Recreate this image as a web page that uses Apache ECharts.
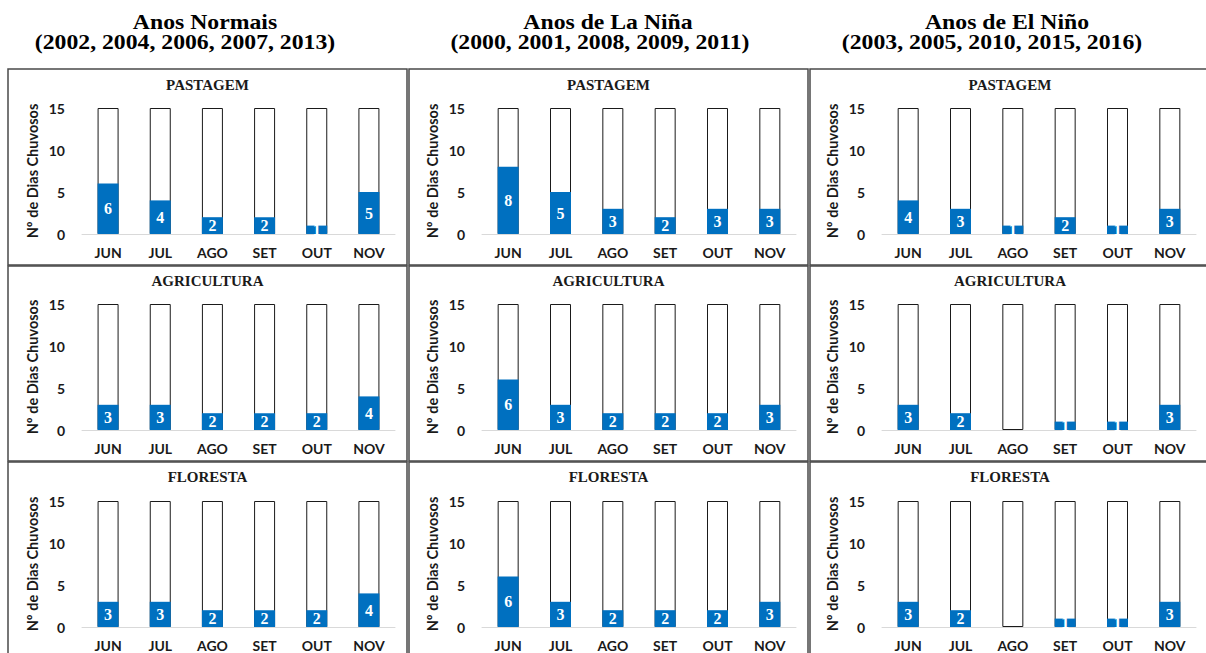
<!DOCTYPE html>
<html>
<head>
<meta charset="utf-8">
<script src="https://cdn.jsdelivr.net/npm/echarts@6/dist/echarts.min.js"></script>
<style>
html,body{margin:0;padding:0;background:#fff;}
#c{width:1206px;height:653px;}
</style>
</head>
<body>
<div id="c"></div>
<script>
// ---- data ----
const months = ['JUN', 'JUL', 'AGO', 'SET', 'OUT', 'NOV'];
const yTicks = [0, 5, 10, 15];
const maxDays = [15, 15, 15, 15, 15, 15];

const columnTitles = ['Anos Normais', 'Anos de La Niña', 'Anos de El Niño'];
const columnYears = ['(2002, 2004, 2006, 2007, 2013)', '(2000, 2001, 2008, 2009, 2011)', '(2003, 2005, 2010, 2015, 2016)'];
const rowTitles = ['PASTAGEM', 'AGRICULTURA', 'FLORESTA'];
const yAxisName = 'Nº de Dias Chuvosos';

const normaisPastagem = [6, 4, 2, 2, 1, 5];
const laNinaPastagem = [8, 5, 3, 2, 3, 3];
const elNinoPastagem = [4, 3, 1, 2, 1, 3];
const normaisAgricultura = [3, 3, 2, 2, 2, 4];
const laNinaAgricultura = [6, 3, 2, 2, 2, 3];
const elNinoAgricultura = [3, 2, 0, 1, 1, 3];
const normaisFloresta = [3, 3, 2, 2, 2, 4];
const laNinaFloresta = [6, 3, 2, 2, 2, 3];
const elNinoFloresta = [3, 2, 0, 1, 1, 3];

const panelData = [
  [normaisPastagem, laNinaPastagem, elNinoPastagem],
  [normaisAgricultura, laNinaAgricultura, elNinoAgricultura],
  [normaisFloresta, laNinaFloresta, elNinoFloresta]
];

// ---- layout ----
const colGridLeft = [82, 482, 882];
const colGridWidth = [313, 314, 314];
const rowGridTop = [108, 304, 501];
const rowGridHeight = [126, 126, 126];
const rowTitleY = [77, 273, 469];
const colBoxX = [8, 409, 810];
const colBoxW = [399, 399, 400];
const rowBoxY = [69, 266, 462];
const rowBoxH = [196, 195, 200];
const colTitleX1 = [205, 608, 1007];
const colTitleX2 = [185, 600, 992];

const BLUE = '#0070C0';
const sans = 'Lato, "Open Sans", sans-serif';
const serif = '"Liberation Serif", "DejaVu Serif", serif';

const grids = [], xAxes = [], yAxes = [], series = [], titles = [], graphics = [];

for (let c = 0; c < 3; c++) {
  graphics.push({
    type: 'text', x: colTitleX1[c], y: 21.5, scaleX: 1.13,
    style: { text: columnTitles[c], font: 'bold 21px ' + serif, fill: '#000', align: 'center', verticalAlign: 'middle' }
  });
  graphics.push({
    type: 'text', x: colTitleX2[c], y: 41.5, scaleX: 1.13,
    style: { text: columnYears[c], font: 'bold 21px ' + serif, fill: '#000', align: 'center', verticalAlign: 'middle' }
  });
}

for (let r = 0; r < 3; r++) {
  for (let c = 0; c < 3; c++) {
    const idx = grids.length;
    graphics.push({
      type: 'rect', z: -1,
      shape: { x: colBoxX[c], y: rowBoxY[r], width: colBoxW[c], height: rowBoxH[r] },
      style: { fill: 'none', stroke: '#4a4a4a', lineWidth: 1.5 }
    });
    titles.push({
      text: rowTitles[r],
      left: colBoxX[c] + colBoxW[c] / 2,
      top: rowTitleY[r],
      textAlign: 'center',
      padding: 0,
      textStyle: { fontFamily: serif, fontWeight: 'bold', fontSize: 15, color: '#1a1a1a' }
    });
    grids.push({ left: colGridLeft[c], top: rowGridTop[r], width: colGridWidth[c], height: rowGridHeight[r], containLabel: false });
    xAxes.push({
      type: 'category', gridIndex: idx, data: months,
      axisLine: { show: true, lineStyle: { color: '#d9d9d9', width: 1 } },
      axisTick: { show: false },
      axisLabel: { fontFamily: sans, fontWeight: 'bold', fontSize: 14, color: '#1a1a1a', margin: 11 }
    });
    yAxes.push({
      type: 'value', gridIndex: idx, min: yTicks[0], max: yTicks[yTicks.length - 1], interval: 5,
      name: yAxisName, nameLocation: 'middle', nameGap: 42,
      nameTextStyle: { fontFamily: sans, fontWeight: 'bold', fontSize: 14.5, color: '#1a1a1a' },
      axisLine: { show: false }, axisTick: { show: false }, splitLine: { show: false },
      axisLabel: { fontFamily: sans, fontWeight: 'bold', fontSize: 14, color: '#1a1a1a', margin: 17 }
    });
    series.push({
      type: 'bar', xAxisIndex: idx, yAxisIndex: idx, data: maxDays,
      barWidth: 21, barGap: '-100%', silent: true,
      itemStyle: { color: '#ffffff', borderColor: '#1a1a1a', borderWidth: 1 },
      z: 2
    });
    series.push({
      type: 'bar', xAxisIndex: idx, yAxisIndex: idx, data: panelData[r][c],
      barWidth: 21, barGap: '-100%', silent: true,
      itemStyle: { color: BLUE },
      label: {
        show: true, position: 'inside',
        formatter: p => (p.value > 0 ? String(p.value) : ''),
        fontFamily: serif, fontWeight: 'bold', fontSize: 16, color: '#ffffff'
      },
      z: 3
    });
  }
}

const chart = echarts.init(document.getElementById('c'), null, { renderer: 'svg' });
chart.setOption({
  animation: false,
  backgroundColor: '#ffffff',
  title: titles,
  grid: grids,
  xAxis: xAxes,
  yAxis: yAxes,
  series: series,
  graphic: graphics
});
</script>
</body>
</html>
